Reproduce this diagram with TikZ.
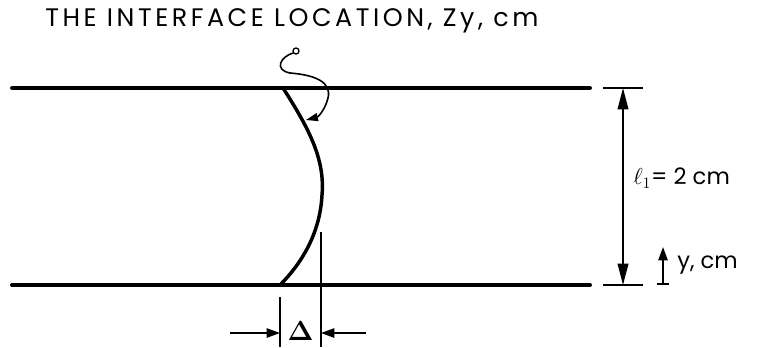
\documentclass[tikz,border=0pt]{standalone}
\usepackage[no-math]{fontspec}
\setmainfont{Poppins}
\newfontfamily\rotulo[LetterSpace=14]{Poppins}
\usetikzlibrary{arrows.meta}

\begin{document}
\begin{tikzpicture}[x=0.75pt, y=-0.75pt, font=\fontsize{17}{17}\selectfont,
  pared/.style={line width=3pt, line cap=round},
  cota/.style={line width=1.2pt},
  punta/.style={-{Triangle[length=16pt, width=8pt]}},
  puntita/.style={-{Triangle[length=10pt, width=7pt]}}]
  \useasboundingbox (0,0) rectangle (766,347);
  % canal
  \draw[pared] (12,88) coordinate (ai) -- (590,88) coordinate (ad);
  \draw[pared] (12,285) coordinate (bi) -- (590,285) coordinate (bd);
  % interfaz
  \coordinate (itop) at (283,88);
  \coordinate (imid) at (322,195);
  \coordinate (ibot) at (280,285);
  \draw[line width=2.6pt] (itop) .. controls (310,130) and (325,160) .. (imid)
    .. controls (320,235) and (300,265) .. (ibot);
  \node[anchor=west, inner sep=0pt, font=\rotulo\fontsize{19}{19}\selectfont] (titulo) at (45,21)
    {THE INTERFACE LOCATION, Zy, cm};
  \draw[line width=1pt] (296,51) circle (3);
  \coordinate (lazo) at (293,53);
  \coordinate (toque) at (306,120);
  \draw[line width=1.2pt, -{Triangle[length=9pt, width=6pt]}] (lazo)
    .. controls (280,57) and (274,70) .. (290,73)
    .. controls (315,75) and (332,82) .. (328,98)
    .. controls (325,110) and (318,117) .. (toque);
  % cota l1
  \draw[cota] (603,88) -- (643,88);
  \draw[cota] (603,285) -- (643,285);
  \coordinate (cs) at (623,88);
  \coordinate (ci) at (623,285);
  \coordinate (cm) at (623,186);
  \draw[cota, punta] (cm) -- (cs);
  \draw[cota, punta] (cm) -- (ci);
  \node[anchor=west, inner sep=0pt] (ele) at (633,178) {$\ell_1$= 2 cm};
  % eje y
  \coordinate (y0) at (663,284);
  \coordinate (y1) at (663,247);
  \draw[cota] (657,284) -- (669,284);
  \draw[cota, puntita] (y0) -- (y1);
  \node[anchor=west, inner sep=0pt] (ycm) at (677,265) {y, cm};
  % delta
  \draw[cota] (280,297) coordinate (di) -- (280,347);
  \draw[cota] (321,232) coordinate (dd) -- (321,347);
  \coordinate (dl) at (230,333);
  \coordinate (dr) at (366,333);
  \draw[cota, puntita] (dl) -- (280,333);
  \draw[cota, puntita] (dr) -- (321,333);
  \node[inner sep=0pt, font=\fontsize{21}{21}\selectfont] (delta) at (300.5,331) {$\mathbf{\Delta}$};
\end{tikzpicture}
\end{document}
